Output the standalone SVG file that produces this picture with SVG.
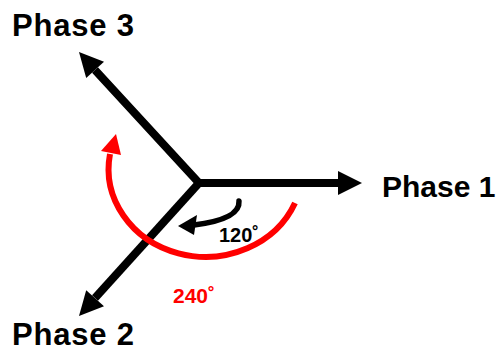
<svg xmlns="http://www.w3.org/2000/svg" width="496" height="351" viewBox="0 0 496 351">
<style>
.lbl{font-family:"Liberation Sans",Arial,sans-serif;font-weight:bold;font-size:31px;letter-spacing:0.8px;fill:#000}
.ang{font-family:"Liberation Sans",Arial,sans-serif;font-weight:bold;font-size:20px}
.shaft{stroke:#000;stroke-width:8;fill:none}
</style>
<rect width="496" height="351" fill="#fff"/>
<g id="connectors">
  <path class="shaft" d="M95 70 L199 183 L340 183" stroke-linejoin="miter"/>
  <path class="shaft" d="M199 183 L95 298"/>
  <polygon points="362,183 338,171 338,195" fill="#000"/>
  <polygon points="79,52 104,61.7 86.2,77.9" fill="#000"/>
  <polygon points="79,316 104,306.2 86.2,290.2" fill="#000"/>
  <path d="M295 203 A97 88 0 0 1 110 154" stroke="#f00" stroke-width="6" fill="none"/>
  <polygon points="116,134 101,151 121,155" fill="#f00"/>
  <path d="M239 201 C240 213 226 221 194 225" stroke="#000" stroke-width="5.5" fill="none" stroke-linecap="round"/>
  <polygon points="178,226 197,215 194,235" fill="#000"/>
</g>
<g id="phase1"><text class="lbl" x="382" y="197" style="font-size:30px;letter-spacing:0">Phase 1</text></g>
<g id="phase2"><text class="lbl" x="12" y="345">Phase 2</text></g>
<g id="phase3"><text class="lbl" x="12" y="36">Phase 3</text></g>
<g id="a120"><text class="ang" x="219" y="242" fill="#000">120˚</text></g>
<g id="a240"><text class="ang" x="173" y="303" fill="#f00" style="font-size:21px">240˚</text></g>
</svg>
